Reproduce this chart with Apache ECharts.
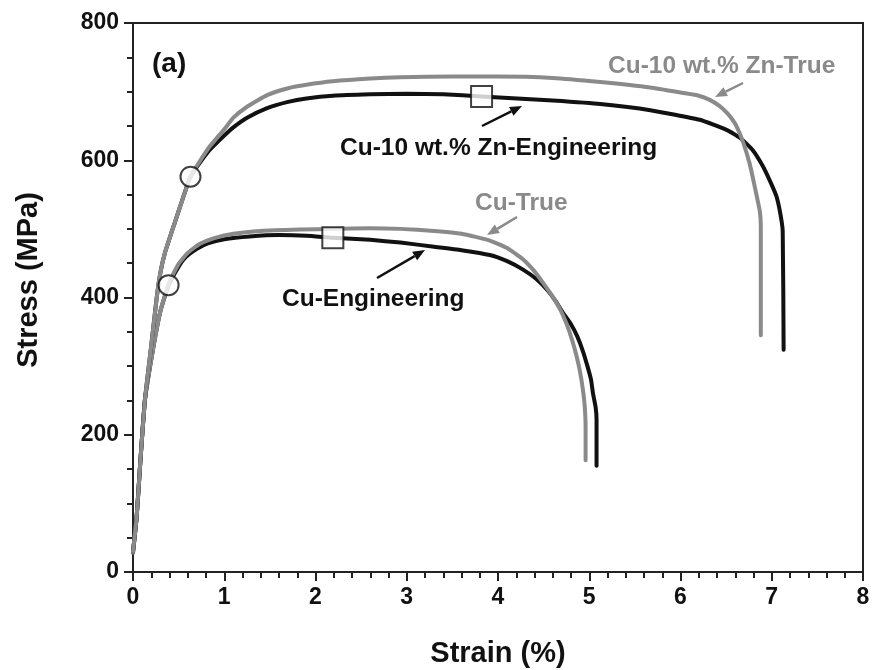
<!DOCTYPE html>
<html>
<head>
<meta charset="utf-8">
<script src="https://cdn.jsdelivr.net/npm/echarts@6/dist/echarts.min.js"></script>
<style>
  html, body { margin: 0; padding: 0; background: #fff; }
  #chart { width: 872px; height: 670px; }
</style>
</head>
<body>
<div id="chart"></div>
<script>
// Tensile stress-strain curves: Cu and Cu-10 wt.% Zn, engineering and true
var FONT = "'Liberation Sans', Arial, sans-serif";

// Cu, engineering curve
var cuEngStrain = [0, 0.04, 0.08, 0.13, 0.22, 0.30, 0.39, 0.50, 0.57, 0.70, 0.82, 1.00, 1.28, 1.60, 1.90, 2.19, 2.60, 2.93, 3.30, 3.60, 3.91, 4.10, 4.27, 4.42, 4.54, 4.63, 4.71, 4.80, 4.87, 4.93, 4.98, 5.02, 5.04, 5.07, 5.08, 5.08];
var cuEngStress = [28, 80, 160, 250, 325, 380, 418, 445, 458, 471, 479, 485, 489, 491, 490, 487, 484, 480, 474, 469, 462, 453, 441, 427, 411, 395, 378, 361, 343, 322, 300, 280, 261, 240, 222, 155];

// Cu, true curve
var cuTrueStrain = [0, 0.04, 0.08, 0.13, 0.22, 0.30, 0.39, 0.50, 0.60, 0.73, 0.90, 1.10, 1.40, 1.83, 2.20, 2.60, 2.93, 3.30, 3.60, 3.91, 4.10, 4.27, 4.40, 4.49, 4.59, 4.68, 4.75, 4.81, 4.86, 4.90, 4.93, 4.95, 4.96, 4.96];
var cuTrueStress = [28, 80, 160, 250, 325, 380, 420, 449, 465, 478, 487, 493, 497, 499, 500, 501, 500, 497, 493, 483, 472, 456, 438, 422, 403, 383, 362, 339, 315, 291, 266, 242, 210, 163];

// Cu-10 wt.% Zn, true curve
var znTrueStrain = [0, 0.04, 0.08, 0.13, 0.20, 0.26, 0.30, 0.35, 0.46, 0.55, 0.63, 0.72, 0.84, 1.00, 1.10, 1.25, 1.47, 1.70, 1.90, 2.19, 2.60, 2.93, 3.50, 4.00, 4.60, 5.12, 5.67, 6.03, 6.20, 6.32, 6.43, 6.51, 6.57, 6.62, 6.69, 6.76, 6.80, 6.84, 6.87, 6.88, 6.88];
var znTrueStress = [30, 80, 160, 250, 330, 400, 436, 465, 510, 546, 576, 596, 620, 645, 662, 678, 695, 705, 710, 715, 719, 721, 722, 722, 720, 714, 706, 698, 694, 688, 679, 669, 659, 648, 625, 594, 570, 545, 525, 505, 345];

// Cu-10 wt.% Zn, engineering curve
var znEngStrain = [0, 0.04, 0.08, 0.13, 0.20, 0.26, 0.30, 0.35, 0.46, 0.55, 0.63, 0.72, 0.84, 1.00, 1.10, 1.25, 1.47, 1.70, 1.90, 2.19, 2.60, 3.00, 3.40, 3.82, 4.21, 4.60, 5.12, 5.67, 6.21, 6.51, 6.65, 6.79, 6.90, 6.98, 7.05, 7.09, 7.12, 7.13];
var znEngStress = [30, 80, 160, 250, 330, 400, 436, 465, 510, 546, 576, 594, 615, 636, 648, 662, 676, 685, 690, 694, 696, 697, 696, 693, 690, 687, 682, 673, 659, 644, 633, 615, 592, 570, 548, 525, 497, 324];

// Yield points (circles) and ultimate tensile strength points (squares)
var yieldStrain = [0.39, 0.63];
var yieldStress = [418, 576];
var utsStrain = [2.19, 3.82];
var utsStress = [487, 693];

// Axis ticks
var xTicks = [0, 1, 2, 3, 4, 5, 6, 7, 8];
var yTicks = [0, 200, 400, 600, 800];

function pairs(xs, ys) {
  return xs.map(function (x, i) { return [x, ys[i]]; });
}

var BLACK = '#111111';
var GREY = '#8a8a8a';

function curve(name, xs, ys, color) {
  return {
    name: name, type: 'line', data: pairs(xs, ys),
    showSymbol: false, smooth: 0.15, silent: true,
    lineStyle: { color: color, width: 4, cap: 'round', join: 'round' }
  };
}

// Arrow made of a shaft and a filled head, in pixel space
function arrow(x1, y1, x2, y2, color) {
  var ang = Math.atan2(y2 - y1, x2 - x1);
  var L = 12, W = 5;
  var bx = x2 - L * Math.cos(ang), by = y2 - L * Math.sin(ang);
  var px = -Math.sin(ang) * W, py = Math.cos(ang) * W;
  return [
    { type: 'line', shape: { x1: x1, y1: y1, x2: bx, y2: by },
      style: { stroke: color, lineWidth: 2.5 }, z: 20 },
    { type: 'polygon', shape: { points: [[x2, y2], [bx + px, by + py], [bx - px, by - py]] },
      style: { fill: color }, z: 20 }
  ];
}

function label(text, x, y, color, size) {
  return { type: 'text', x: x, y: y, z: 20,
    style: { text: text, fill: color, font: 'bold ' + size + 'px ' + FONT, textVerticalAlign: 'middle' } };
}

var chart = echarts.init(document.getElementById('chart'), null, { renderer: 'canvas' });

var graphics = [
  label('(a)', 152, 64, BLACK, 28),
  label('Cu-10 wt.% Zn-True', 608, 66, GREY, 24.5),
  label('Cu-10 wt.% Zn-Engineering', 340, 148, BLACK, 24.5),
  label('Cu-True', 475, 203, GREY, 24.5),
  label('Cu-Engineering', 282, 299, BLACK, 24.5),
  // vertical axis title
  { type: 'text', x: 29, y: 280, rotation: Math.PI / 2, z: 20,
    style: { text: 'Stress (MPa)', fill: BLACK, font: 'bold 29px ' + FONT,
             textAlign: 'center', textVerticalAlign: 'middle' } }
]
  .concat(arrow(743, 83, 715, 97, GREY))
  .concat(arrow(482, 126, 522, 106, BLACK))
  .concat(arrow(517, 217, 487, 235, GREY))
  .concat(arrow(377, 278, 425, 250, BLACK));

chart.setOption({
  backgroundColor: '#ffffff',
  animation: false,
  grid: { left: 133, right: 9, top: 23, bottom: 98, show: true, outerBoundsMode: 'none',
          containLabel: false,
          borderColor: '#222', borderWidth: 2, backgroundColor: 'transparent' },
  xAxis: {
    type: 'value', min: xTicks[0], max: xTicks[xTicks.length - 1], interval: 1,
    name: 'Strain (%)', nameLocation: 'middle', nameGap: 67,
    nameTextStyle: { fontFamily: FONT, fontWeight: 'bold', fontSize: 29, color: BLACK },
    axisLine: { lineStyle: { color: '#222', width: 2 } },
    axisTick: { show: true, inside: false, length: 9, lineStyle: { color: '#222', width: 2 } },
    minorTick: { show: true, splitNumber: 5, length: 6, lineStyle: { color: '#222', width: 2 } },
    axisLabel: { fontFamily: FONT, fontWeight: 'bold', fontSize: 23, color: BLACK, margin: 14 },
    splitLine: { show: false }
  },
  yAxis: {
    type: 'value', min: yTicks[0], max: yTicks[yTicks.length - 1], interval: 200,
    axisLine: { lineStyle: { color: '#222', width: 2 } },
    axisTick: { show: true, inside: false, length: 9, lineStyle: { color: '#222', width: 2 } },
    minorTick: { show: true, splitNumber: 4, length: 6, lineStyle: { color: '#222', width: 2 } },
    axisLabel: { fontFamily: FONT, fontWeight: 'bold', fontSize: 23, color: BLACK, margin: 14 },
    splitLine: { show: false }
  },
  series: [
    curve('Cu-Engineering', cuEngStrain, cuEngStress, BLACK),
    curve('Cu-True', cuTrueStrain, cuTrueStress, GREY),
    curve('Cu-10 wt.% Zn-Engineering', znEngStrain, znEngStress, BLACK),
    curve('Cu-10 wt.% Zn-True', znTrueStrain, znTrueStress, GREY),
    {
      name: 'Yield', type: 'scatter', data: pairs(yieldStrain, yieldStress),
      symbol: 'circle', symbolSize: 20, z: 10, silent: true,
      itemStyle: { color: '#fff', borderColor: BLACK, borderWidth: 2 }
    },
    {
      name: 'UTS', type: 'scatter', data: pairs(utsStrain, utsStress),
      symbol: 'rect', symbolSize: 21, z: 10, silent: true,
      itemStyle: { color: '#fff', borderColor: BLACK, borderWidth: 2 }
    }
  ],
  graphic: graphics
});
</script>
</body>
</html>
